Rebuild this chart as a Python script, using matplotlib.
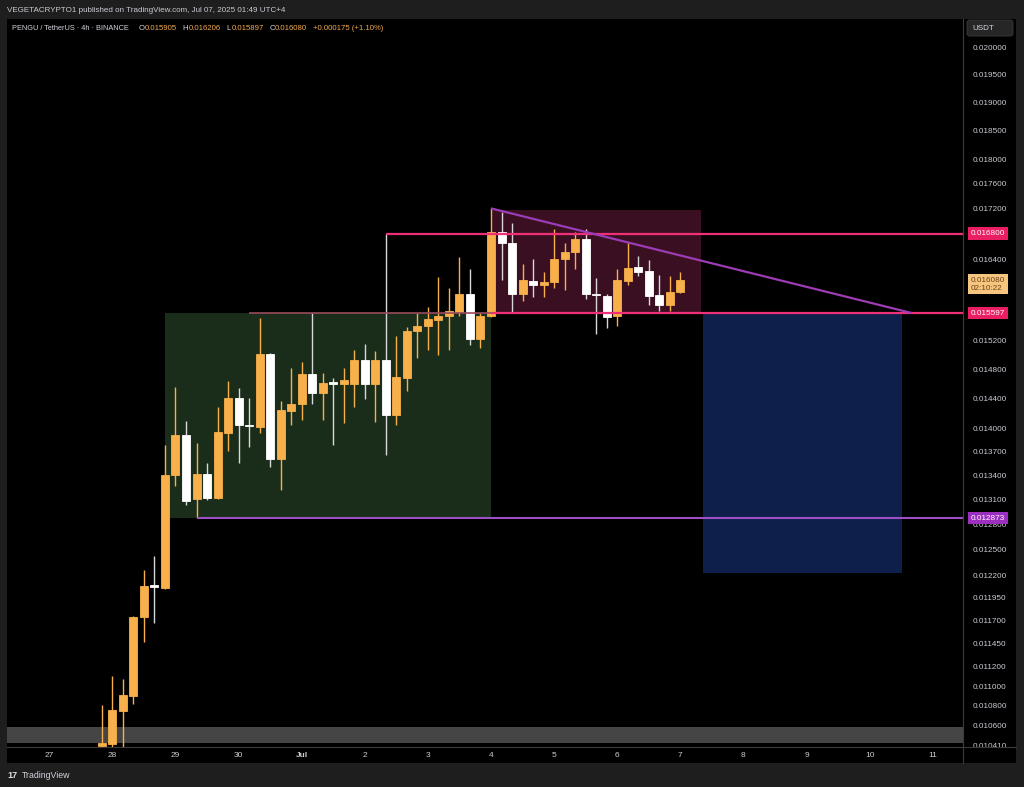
import numpy as np
import pandas as pd
import matplotlib
matplotlib.use('Agg')
import matplotlib.pyplot as plt
import matplotlib.dates as mdates
from matplotlib import transforms
from matplotlib.patches import Rectangle, FancyBboxPatch
from matplotlib.ticker import FixedLocator, NullLocator, FuncFormatter

plt.rcParams['font.family'] = ['Liberation Sans', 'DejaVu Sans']

# ---------------- data ----------------
first_candle = '2025-06-27 20:00'   # 4h candles
opens = [0.01040, 0.01042, 0.01075, 0.01090, 0.01174, 0.01209, 0.01206, 0.01340,
         0.01391, 0.01310, 0.01342, 0.01312, 0.01394, 0.01440, 0.01405, 0.01402,
         0.01501, 0.01360, 0.01423, 0.01433, 0.01473, 0.01447, 0.01462, 0.01459,
         0.01460, 0.01492, 0.01459, 0.01492, 0.01418, 0.01468, 0.01533, 0.01541,
         0.01550, 0.01556, 0.01561, 0.01588, 0.01522, 0.01555, 0.01682, 0.01665,
         0.01587, 0.01607, 0.01601, 0.01606, 0.01640, 0.01651, 0.01671, 0.01588,
         0.01585, 0.01555, 0.01607, 0.01628, 0.01622, 0.01586, 0.01572, 0.015905]
highs = [0.01081, 0.01110, 0.01107, 0.01175, 0.01226, 0.01242, 0.01378, 0.01456,
         0.01410, 0.01381, 0.01356, 0.01429, 0.01464, 0.01454, 0.01440, 0.01552,
         0.01503, 0.01436, 0.01481, 0.01490, 0.01559, 0.01475, 0.01467, 0.01482,
         0.01507, 0.01515, 0.01505, 0.01680, 0.01526, 0.01539, 0.01560, 0.01569,
         0.01613, 0.01596, 0.01644, 0.01626, 0.01560, 0.01720, 0.01715, 0.01697,
         0.01633, 0.01641, 0.01620, 0.01687, 0.01666, 0.01683, 0.01687, 0.01611,
         0.01587, 0.01626, 0.01667, 0.01645, 0.01639, 0.01616, 0.01615, 0.016206]
lows = [0.01038, 0.01037, 0.01039, 0.01082, 0.01146, 0.01167, 0.01205, 0.01326,
        0.01303, 0.012873, 0.01309, 0.01310, 0.01371, 0.01355, 0.01376, 0.01394,
        0.01351, 0.01322, 0.01404, 0.01411, 0.01432, 0.01411, 0.01379, 0.01407,
        0.01429, 0.01439, 0.01408, 0.01366, 0.01404, 0.01450, 0.01495, 0.01506,
        0.01500, 0.01506, 0.01555, 0.01514, 0.01509, 0.01554, 0.01609, 0.01559,
        0.01578, 0.01583, 0.01583, 0.01596, 0.01594, 0.01625, 0.01581, 0.01530,
        0.01538, 0.01541, 0.01601, 0.01614, 0.01571, 0.01563, 0.01563, 0.015897]
closes = [0.01043, 0.01076, 0.01091, 0.01174, 0.01208, 0.01207, 0.01340, 0.01391,
          0.01308, 0.01342, 0.01312, 0.01396, 0.01440, 0.01404, 0.01403, 0.01501,
          0.01360, 0.01424, 0.01433, 0.01473, 0.01447, 0.01461, 0.01460, 0.01465,
          0.01492, 0.01460, 0.01492, 0.01418, 0.01469, 0.01533, 0.01541, 0.01551,
          0.01556, 0.01562, 0.01588, 0.01522, 0.01555, 0.01682, 0.01665, 0.01587,
          0.01608, 0.01601, 0.01606, 0.01641, 0.01651, 0.01671, 0.01587, 0.01586,
          0.01554, 0.01609, 0.01627, 0.01620, 0.01585, 0.01571, 0.01590, 0.016080]

price_ticks = [0.020000, 0.019500, 0.019000, 0.018500, 0.018000, 0.017600, 0.017200,
               0.016400, 0.015200, 0.014800, 0.014400, 0.014000, 0.013700, 0.013400,
               0.013100, 0.012800, 0.012500, 0.012200, 0.011950, 0.011700, 0.011450,
               0.011200, 0.011000, 0.010800, 0.010600, 0.010410]
date_ticks = ['2025-06-27', '2025-06-28', '2025-06-29', '2025-06-30', '2025-07-01',
              '2025-07-02', '2025-07-03', '2025-07-04', '2025-07-05', '2025-07-06',
              '2025-07-07', '2025-07-08', '2025-07-09', '2025-07-10', '2025-07-11']
date_labels = ['27', '28', '29', '30', 'Jul', '2', '3', '4', '5', '6', '7', '8', '9', '10', '11']

level_resist = 0.016800
level_mid = 0.015597
level_support = 0.012873
last_price = 0.016080
countdown = '02:10:22'
change_text = '+0.000175 (+1.10%)'

# drawings: (start, end, low, high)
green_zone = ('2025-06-28 20:00', '2025-07-04 00:00', 0.012873, 0.015597)
red_zone = ('2025-07-04 00:00', '2025-07-07 08:00', 0.015597, 0.017180)
blue_zone = ('2025-07-07 08:30', '2025-07-10 12:15', 0.012228, 0.015597)
resist_start = '2025-07-02 08:00'
mid_start = '2025-06-30 04:00'
support_start = '2025-06-29 08:00'
trend_line = (('2025-07-04 00:00', 0.017202), ('2025-07-10 16:00', 0.015597))
y_limits = (0.010394, 0.020537)

# ---------------- figure ----------------
W, H = 1024, 787
fig = plt.figure(figsize=(W / 100, H / 100), dpi=100, facecolor='#1e1e1e')
fig.add_artist(Rectangle((6.5 / W, 1 - 763 / H), (1016 - 6.5) / W, (763 - 18.5) / H,
                         transform=fig.transFigure, facecolor='black', edgecolor='none', zorder=0))

ax = fig.add_axes([6.5 / W, 1 - 746.7 / H, (963 - 6.5) / W, (746.7 - 19) / H])
ax.set_facecolor('black')
ax.set_yscale('log')
ax.set_ylim(*y_limits)
d0 = mdates.date2num(pd.Timestamp(date_ticks[0]))
ax.set_xlim(d0 - 0.678, d0 + 14.48)
for s in ax.spines.values():
    s.set_visible(False)

num = lambda t: mdates.date2num(pd.Timestamp(t))

times = pd.date_range(first_candle, periods=len(opens), freq='4h')
xs = mdates.date2num(times)
o = np.array(opens); c = np.array(closes)
orange = '#f8b04a'
cols = [orange if cc >= oo else '#ffffff' for oo, cc in zip(o, c)]
wick_cols = [orange if cc >= oo else '#d8d8d8' for oo, cc in zip(o, c)]

# zones
for z, fc in [(green_zone, '#1a2d1a'), (red_zone, '#3b0f22'), (blue_zone, '#0f1f4c')]:
    x0, x1 = num(z[0]), num(z[1])
    ax.add_patch(Rectangle((x0, z[2]), x1 - x0, z[3] - z[2], facecolor=fc, edgecolor='none', zorder=1))
ax.axhspan(0.01043, 0.010588, color='#454545', zorder=0.5, lw=0)

# candles
ax.vlines(xs, lows, highs, colors=wick_cols, lw=1, zorder=3)
ax.bar(xs, np.abs(c - o), bottom=np.minimum(o, c), width=0.127, color=cols,
       edgecolor=cols, lw=0.6, zorder=4)

# level lines
xr = ax.get_xlim()[1]
ax.hlines(level_resist, num(resist_start), xr, color='#ef2f78', lw=1.6, zorder=5)
ax.hlines(level_mid, num(mid_start), num(green_zone[1]), color='#9a4a5c', lw=1.2, zorder=5)
ax.hlines(level_mid, num(green_zone[1]), xr, color='#ef2f78', lw=1.6, zorder=5)
ax.hlines(level_support, num(support_start), xr, color='#9d4fc6', lw=1.5, zorder=5)
(t0, p0), (t1, p1) = trend_line
ax.plot([num(t0), num(t1)], [p0, p1], color='#9c3cb4', lw=1.6, zorder=5, solid_capstyle='butt')

# y axis (right)
ax.yaxis.set_ticks_position('right')
ax.yaxis.set_major_locator(FixedLocator(price_ticks))
ax.yaxis.set_minor_locator(NullLocator())
ax.yaxis.set_minor_formatter(FuncFormatter(lambda v, p: ''))
ax.yaxis.set_major_formatter(FuncFormatter(lambda v, p: f'{v:.6f}'))
ax.tick_params(axis='y', length=0, pad=7, labelsize=5.9, labelcolor='#c9ccd3')

# x axis
ax.xaxis.set_major_locator(FixedLocator([num(t) for t in date_ticks]))
ax.xaxis.set_minor_locator(NullLocator())
ax.set_xticklabels(date_labels)
ax.tick_params(axis='x', length=0, pad=4, labelsize=6, labelcolor='#c9ccd3')
for lab in ax.get_xticklabels():
    if lab.get_text() == 'Jul':
        lab.set_fontweight('bold')

# price boxes on axis
bt = transforms.blended_transform_factory(ax.transAxes, ax.transData)
xlab = 1 + 7.5 / ((963 - 6.5))
for val, fc in [(level_resist, '#e91e63'), (level_mid, '#e91e63'), (level_support, '#9c2fc0')]:
    ax.text(xlab, val, f'{val:.6f}', transform=bt, ha='left', va='center', fontsize=5.9,
            color='white', clip_on=False, zorder=10,
            bbox=dict(boxstyle='square,pad=0.35', fc=fc, ec='none'))
ax.text(xlab, last_price, f'{last_price:.6f}\n{countdown}',
        transform=transforms.offset_copy(bt, fig=fig, y=-4, units='dots'),
        ha='left', va='center', fontsize=5.9, color='#6b4512', clip_on=False, zorder=10,
        linespacing=1.05, bbox=dict(boxstyle='square,pad=0.35', fc='#f6c57f', ec='none'))

# separators
fig.add_artist(plt.Line2D([963 / W, 963 / W], [1 - 763 / H, 1 - 19 / H], color='#3c3c3c', lw=0.8))
fig.add_artist(plt.Line2D([6.5 / W, 1016 / W], [1 - 746.7 / H, 1 - 746.7 / H], color='#3c3c3c', lw=0.8))

# USDT box
fig.add_artist(FancyBboxPatch((967 / W, 1 - 36 / H), 46 / W, 16 / H, boxstyle='round,pad=0,rounding_size=0.003',
                              transform=fig.transFigure, fc='#262626', ec='#3a3a3a', lw=0.6))
fig.text(972 / W, 1 - 28 / H, 'USDT', fontsize=5.8, color='#d1d4dc', va='center', ha='left')

# header texts
fig.text(7 / W, 1 - 10.5 / H, 'VEGETACRYPTO1 published on TradingView.com, Jul 07, 2025 01:49 UTC+4',
         fontsize=5.8, color='#c9ccd3', va='center', ha='left')
hy = 1 - 28 / H
fig.text(11.7 / W, hy, 'PENGU / TetherUS · 4h · BINANCE', fontsize=5.3, color='#d1d4dc', va='center')
vals_col = '#f2a94e'
for xp, txt, colr in [(138.3, 'O', '#d1d4dc'), (144.5, f'{opens[-1]:.6f}', vals_col),
                      (182.7, 'H', '#d1d4dc'), (188.5, f'{highs[-1]:.6f}', vals_col),
                      (226.7, 'L', '#d1d4dc'), (231.5, f'{lows[-1]:.6f}', vals_col),
                      (269.3, 'C', '#d1d4dc'), (274.5, f'{closes[-1]:.6f}', vals_col),
                      (313.3, change_text, vals_col)]:
    fig.text(xp / W, hy, txt, fontsize=5.6, color=colr, va='center', ha='left')

# footer
fig.text(7 / W, 1 - 776 / H, '17', fontsize=6.5, color='#e0e0e0', fontweight='bold', va='center')
fig.text(22 / W, 1 - 776 / H, 'TradingView', fontsize=6.3, color='#d1d4dc', va='center')

fig.savefig('out.png', dpi=100, facecolor=fig.get_facecolor())
